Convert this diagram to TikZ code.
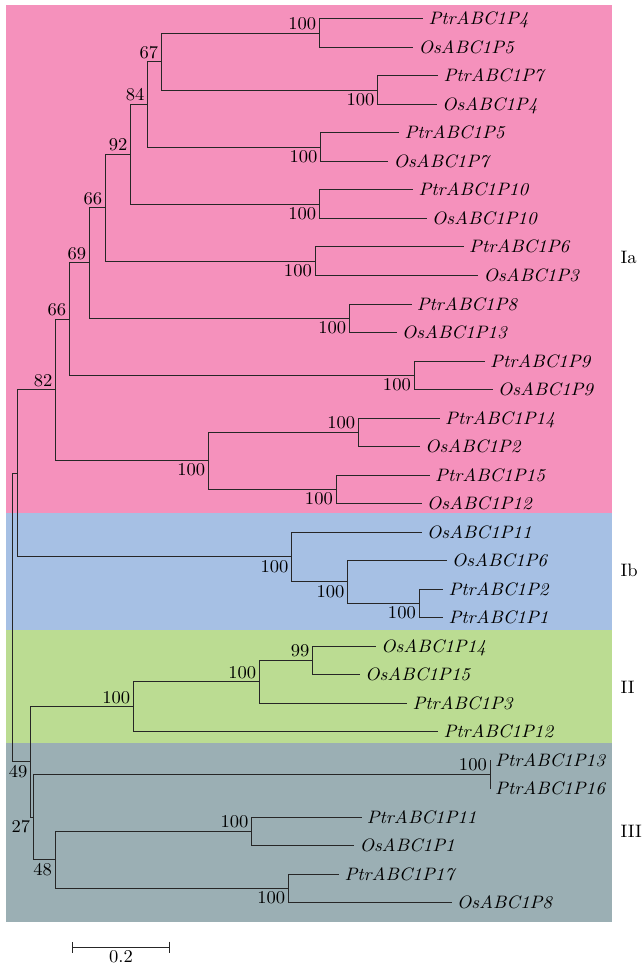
\documentclass[tikz,border=0pt]{standalone}
\usepackage{fontspec}
\setmainfont{lmroman10-regular.otf}[FakeStretch=1.03]
\newfontfamily\leafit{lmroman10-italic.otf}[FakeStretch=1.05]
\usetikzlibrary{arrows.meta}

\definecolor{cladeIa}{RGB}{245,145,188}
\definecolor{cladeIb}{RGB}{166,192,228}
\definecolor{cladeII}{RGB}{187,220,146}
\definecolor{cladeIII}{RGB}{155,175,180}
\newcommand{\treefont}{\fontsize{18}{21.6}\selectfont}

\tikzset{
	branch/.style={line width=1pt,draw=black!85},
	leaf/.style={anchor=base west,inner sep=0pt,xshift=5pt,yshift=-6pt,font={\treefont\leafit}},
	bootup/.style={anchor=south east,inner sep=3pt},
	bootdown/.style={anchor=north east,inner sep=3pt},
	group/.style={anchor=base west,inner sep=0pt},
}

\begin{document}
\begin{tikzpicture}[x=1pt,y=-1pt,font=\treefont]
			\useasboundingbox (0,0) rectangle (642,965);
			\fill[cladeIa] (6,5) rectangle (612,513);
			\fill[cladeIb] (6,513) rectangle (612,630);
			\fill[cladeII] (6,630) rectangle (612,743);
			\fill[cladeIII] (6,743) rectangle (612,922);
			% leaves
			\foreach \i/\x/\name in {0/423.3/PtrABC1P4,1/413.3/OsABC1P5,2/438.3/PtrABC1P7,3/437/OsABC1P4,
				4/399.3/PtrABC1P5,5/388.3/OsABC1P7,6/413.3/PtrABC1P10,7/426.7/OsABC1P10,
				8/464/PtrABC1P6,9/478.3/OsABC1P3,10/411.7/PtrABC1P8,11/396.7/OsABC1P13,
				12/485/PtrABC1P9,13/492.7/OsABC1P9,14/440/PtrABC1P14,15/420/OsABC1P2,
				16/430/PtrABC1P15,17/421.7/OsABC1P12,18/421.7/OsABC1P11,19/446.7/OsABC1P6,
				20/443.3/PtrABC1P2,21/443.3/PtrABC1P1,22/376/OsABC1P14,23/360/OsABC1P15,
				24/407.3/PtrABC1P3,25/438.3/PtrABC1P12,26/490/PtrABC1P13,27/490/PtrABC1P16,
				28/361.7/PtrABC1P11,29/354.3/OsABC1P1,30/339.3/PtrABC1P17,31/451.7/OsABC1P8}
			{
				\coordinate (l\i) at (\x,{19+28.5*\i});
				\node[leaf] (t\i) at (l\i) {\name};
			}
			% inner nodes
			\foreach \n/\x/\y in {nA/319.3/33.25,nB/377.7/90.25,n67/161.3/61.75,nC/320.7/147.25,
				n84/147.7/104.5,nD/319.3/204.25,n92/130.7/154.4,nE/315/261.25,n66a/105.3/207.8,
				nF/349.3/318.25,n69/89.3/263,nG/414/375.25,n66b/69.3/319.1,nI/358.3/432.25,
				nJ/336/489.25,nH/208.3/460.75,n82/55.7/389.9,nP/419/603.25,nO/347.7/581.9,
				nIb/291.7/556.9,nK/17.3/473.4,n99/312.7/660.25,nQ/259.3/681.6,nII/133.3/706.6,
				nN/490/774.25,nL/251.7/831.25,nM/288.3/888.25,n48/55/859.75,n27/33.3/817,
				n49/30.7/761.8,root/12.7/617.6}
			\coordinate (\n) at (\x,\y);
			% branches
			\foreach \p/\c in {nA/l0,nA/l1,nB/l2,nB/l3,n67/nA,n67/nB,nC/l4,nC/l5,n84/n67,n84/nC,
				nD/l6,nD/l7,n92/n84,n92/nD,nE/l8,nE/l9,n66a/n92,n66a/nE,nF/l10,nF/l11,n69/n66a,n69/nF,
				nG/l12,nG/l13,n66b/n69,n66b/nG,nI/l14,nI/l15,nJ/l16,nJ/l17,nH/nI,nH/nJ,n82/n66b,n82/nH,
				nP/l20,nP/l21,nO/l19,nO/nP,nIb/l18,nIb/nO,nK/n82,nK/nIb,n99/l22,n99/l23,nQ/n99,nQ/l24,
				nII/nQ,nII/l25,nN/l26,nN/l27,nL/l28,nL/l29,nM/l30,nM/l31,n48/nL,n48/nM,n27/nN,n27/n48,
				n49/nII,n49/n27,root/nK,root/n49}
			\draw[branch] (\p) |- (\c);
			% bootstrap values
			\foreach \n/\b in {nA/100,n67/67,n84/84,n92/92,n66a/66,n69/69,n66b/66,n82/82,
				nI/100,n99/99,nQ/100,nII/100,nN/100,nL/100}
			\node[bootup] (b\n) at (\n) {\b};
			\foreach \n/\b in {nB/100,nC/100,nD/100,nE/100,nF/100,nG/100,nH/100,nJ/100,
				nIb/100,nO/100,nP/100,n49/49,n27/27,n48/48,nM/100}
			\node[bootdown] (b\n) at (\n) {\b};
			% groups
			\node[group] (gIa) at (620.5,264) {Ia};
			\node[group] (gIb) at (620.5,576.7) {Ib};
			\node[group] (gII) at (620.5,693) {II};
			\node[group] (gIII) at (620.5,837) {III};
			% scale
			\coordinate (s0) at (72,947);
			\coordinate (s1) at (170,947);
			\draw[branch,{Bar[width=11pt]}-{Bar[width=11pt]}] (s0) -- (s1);
			\node[anchor=base] (sl) at (121,962) {0.2};
		\end{tikzpicture}
\end{document}
